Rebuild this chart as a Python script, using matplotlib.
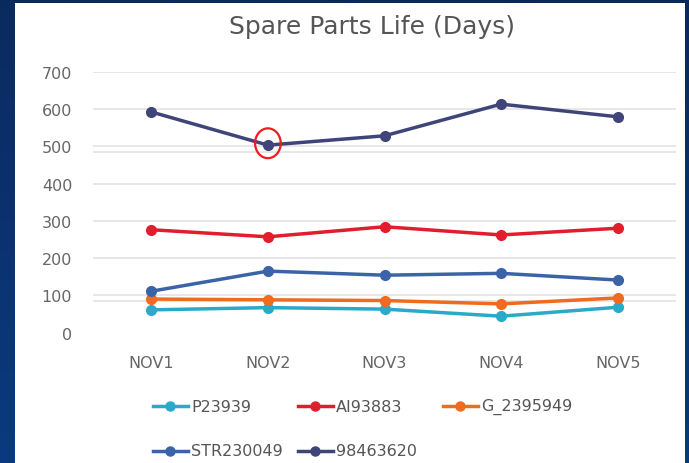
import matplotlib
matplotlib.use("Agg")
import matplotlib.pyplot as plt
import numpy as np
from matplotlib.patches import Rectangle, Ellipse
from matplotlib.lines import Line2D

plt.rcParams['font.family'] = ['DejaVu Sans']

categories = ["NOV1", "NOV2", "NOV3", "NOV4", "NOV5"]
series_names = ["P23939", "AI93883", "G_2395949", "STR230049", "98463620"]
p23939 = [61, 67, 63, 44, 68]
ai93883 = [276, 257, 284, 262, 280]
g_2395949 = [90, 88, 86, 77, 93]
str230049 = [111, 165, 154, 159, 141]
s98463620 = [592, 503, 528, 613, 579]
series_values = [p23939, ai93883, g_2395949, str230049, s98463620]
colors = ["#2aa9c9", "#e01e2d", "#f06b1f", "#3a63a8", "#3f4479"]
y_ticks = [0, 100, 200, 300, 400, 500, 600, 700]

W, H = 689, 464
fig = plt.figure(figsize=(W / 100, H / 100), dpi=100)

# background gradient
bg = fig.add_axes([0, 0, 1, 1], zorder=-10)
gy = np.linspace(0, 1, 200)[:, None]
gx = np.linspace(0, 1, 200)[None, :]
top = np.array([0x0a, 0x29, 0x5a]) / 255
bot = np.array([0x0a, 0x3a, 0x80]) / 255
t = np.clip(gy * 0.9 + (1 - gx) * 0.1, 0, 1)
img = top[None, None, :] * (1 - t[..., None]) + bot[None, None, :] * t[..., None]
bg.imshow(img, aspect='auto', extent=[0, 1, 0, 1], origin='upper')
bg.set_axis_off()
bg.add_patch(Rectangle((15 / W, 0), (685 - 15) / W, (H - 4) / H,
                       transform=bg.transAxes, facecolor='white', edgecolor='none'))
bg.set_xlim(0, 1); bg.set_ylim(0, 1)

left, right = 93 / W, 676 / W
bottom, topy = 1 - 333.6 / H, 1 - 72.7 / H
ax = fig.add_axes([left, bottom, right - left, topy - bottom])
ax.set_facecolor('none')

x = np.arange(len(categories))
for vals, c in zip(series_values, colors):
    ax.plot(x, vals, color=c, lw=2.5, marker='o', markersize=7, solid_capstyle='round', zorder=3)

ax.set_xlim(-0.5, 4.5)
ax.set_ylim(0, 700)
ax.set_yticks(y_ticks)
ax.set_xticks(x)
ax.set_xticklabels(categories)
for yt in y_ticks[1:]:
    ax.axhline(yt, color='#e3e3e3', lw=1.2, zorder=1)
for yt in [485, 85]:
    ax.axhline(yt, color='#e3e3e3', lw=1.2, zorder=1)
for s in ax.spines.values():
    s.set_visible(False)
ax.tick_params(axis='both', length=0, labelsize=11.5, labelcolor='#666666')
ax.tick_params(axis='y', pad=15)
ax.tick_params(axis='x', pad=16)
for lab in ax.get_yticklabels():
    lab.set_va('center_baseline')

# highlight circle
ax.add_patch(Ellipse((1, 508), 0.22, 80, fill=False, edgecolor='#ee1c1c', lw=1.6, zorder=5))

fig.text(372 / W, 1 - 27 / H, "Spare Parts Life (Days)", ha='center', va='center',
         fontsize=18, color='#555555')

# legend
col_x = [153, 298, 443]
row_y = [407, 452]
for i, (name, c) in enumerate(zip(series_names, colors)):
    r, cidx = divmod(i, 3)
    x0 = col_x[cidx]
    yy = 1 - row_y[r] / H
    fig.add_artist(Line2D([x0 / W, (x0 + 35) / W], [yy, yy], color=c, lw=2.5,
                          transform=fig.transFigure))
    fig.add_artist(Line2D([(x0 + 17) / W], [yy], color=c, marker='o', markersize=6.5,
                          transform=fig.transFigure))
    fig.text((x0 + 38) / W, yy, name, ha='left', va='center', fontsize=11.5, color='#555555')

fig.savefig("out.png", dpi=100)
